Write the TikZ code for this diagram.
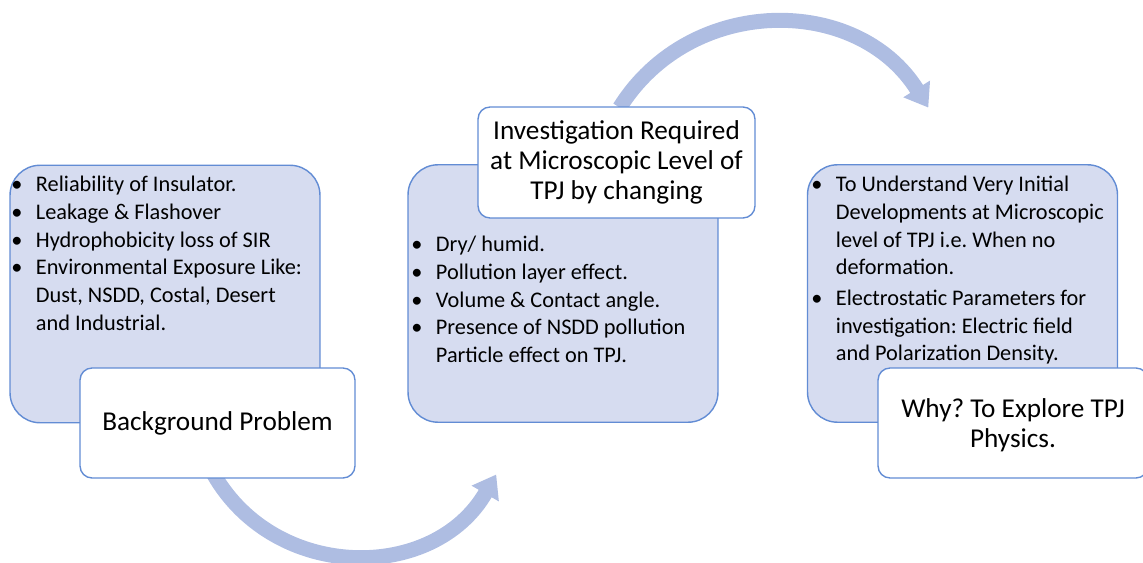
\documentclass[tikz,border=0pt]{standalone}
\usepackage{fontspec}
\setmainfont{Carlito}
\usetikzlibrary{arrows.meta}

\definecolor{boxfill}{RGB}{214,220,240}
\definecolor{boxline}{RGB}{98,140,212}
\definecolor{flow}{RGB}{174,189,226}

% bullet list laid out as a two-column table: bullet, then text
\newenvironment{blist}{\begin{tabular}[t]{@{}p{14pt}@{}l@{}}}{\end{tabular}}
\newcommand{\bdot}{\textbullet}

\begin{document}
\frenchspacing
\begin{tikzpicture}[x=0.02cm,y=0.02cm,
  panel/.style={draw=boxline, line width=0.8pt, fill=boxfill, rounded corners=0.6cm,
    minimum width=6.2cm, minimum height=5.15cm, inner sep=0pt},
  tag/.style={draw=boxline, line width=0.8pt, fill=white, rounded corners=0.24cm,
    inner sep=0pt, align=center, font=\fontsize{15.5}{17}\selectfont},
  bullets/.style={anchor=base west, inner sep=0pt,
    font=\fontsize{12.7}{15.8}\selectfont},
  flowarrow/.style={draw=flow, line width=0.3cm, -{Triangle[width=0.6cm,length=0.44cm]}}
]
\useasboundingbox (0,0) rectangle (1143,562);

% curved flow arrows (behind the boxes)
\coordinate (lowA) at (213.8,87.5);
\coordinate (lowB) at (496.2,87.5);
\coordinate (upA) at (619.7,454.4);
\coordinate (upB) at (928.3,454.4);
\draw[flowarrow] (lowA) to[out=-60,in=-120,looseness=1.13] (lowB);
\draw[flowarrow] (upA) to[out=58,in=122,looseness=1.11] (upB);

% content panels
\node[panel] (bgpanel) at (165,268) {};
\node[panel] (invpanel) at (563,268.5) {};
\node[panel] (whypanel) at (962.5,268.5) {};

% title boxes
\node[tag, minimum width=5.5cm, minimum height=2.2cm] (bgtag) at (217.5,139) {Background Problem};
\node[tag, minimum width=5.54cm, minimum height=2.22cm] (invtag) at (616.5,399.5)
  {Investigation Required\\at Microscopic Level of\\TPJ by changing};
\node[tag, minimum width=5.4cm, minimum height=2.2cm, text depth=-2pt] (whytag) at (1013,139)
  {Why? To Explore TPJ\\Physics.};

% bullet lists
\node[bullets] (bglist) at (11,370.3) {\begin{blist}
\bdot & Reliability of Insulator.\\
\bdot & Leakage \& Flashover\\
\bdot & Hydrophobicity loss of SIR\\
\bdot & Environmental Exposure Like:\\
      & Dust, NSDD, Costal, Desert\\
      & and Industrial.
\end{blist}};

\node[bullets] (invlist) at (411,310.3) {\begin{blist}
\bdot & Dry/ humid.\\
\bdot & Pollution layer effect.\\
\bdot & Volume \& Contact angle.\\
\bdot & Presence of NSDD pollution\\
      & Particle effect on TPJ.
\end{blist}};

\node[bullets] (whylist) at (811,370.3) {\begin{blist}
\bdot & To Understand Very Initial\\
      & Developments at Microscopic\\
      & level of TPJ i.e. When no\\
      & deformation.\\[1.5pt]
\bdot & Electrostatic Parameters for\\
      & investigation: Electric field\\
      & and Polarization Density.
\end{blist}};
\end{tikzpicture}
\end{document}
